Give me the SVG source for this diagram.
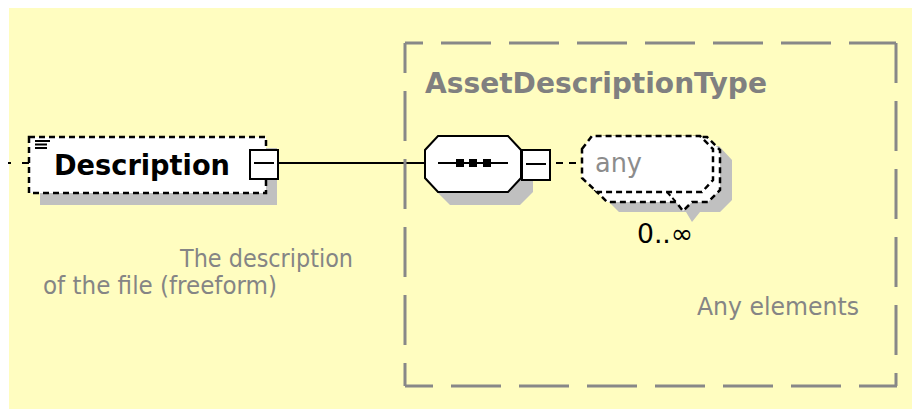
<svg xmlns="http://www.w3.org/2000/svg" width="912" height="409" viewBox="0 0 912 409">
<style>
.shadow{fill:#c0c0c0;stroke:none}
.box{fill:#fff;stroke:#000;stroke-width:2}
.dash{stroke-width:2.5;stroke-dasharray:6 4}
.grp{stroke:#888;stroke-width:3;fill:none;stroke-dasharray:50 18}
.line{stroke:#000;stroke-width:2;fill:none}
.t{font-family:"DejaVu Sans Condensed","DejaVu Sans","Liberation Sans",sans-serif}
.lbl{fill:#858585;font-size:25px}
</style>
<rect x="9" y="8" width="903" height="401" fill="#fffdc0"/>

<g id="connectors">
  <line x1="8" y1="163" x2="11" y2="163" class="line"/>
  <line x1="22" y1="163" x2="29" y2="163" class="line"/>
  <line x1="279" y1="163" x2="426" y2="163" class="line"/>
  <line x1="550" y1="163" x2="580" y2="163" class="line" stroke-dasharray="7 6" stroke-dashoffset="-6"/>
</g>

<g id="AssetDescriptionType">
  <line x1="405" y1="43" x2="896" y2="43" class="grp" stroke-dashoffset="32"/>
  <line x1="896" y1="43" x2="896" y2="386" class="grp" stroke-dashoffset="10"/>
  <line x1="405" y1="386" x2="897" y2="386" class="grp" stroke-dashoffset="22"/>
  <line x1="405" y1="43" x2="405" y2="386" class="grp" stroke-dashoffset="20"/>
  <text x="425" y="93" class="t" font-size="28" font-weight="bold" fill="#808080" textLength="342" lengthAdjust="spacingAndGlyphs">AssetDescriptionType</text>
  <text x="697" y="315" class="t lbl" textLength="162" lengthAdjust="spacingAndGlyphs">Any elements</text>
</g>

<g id="Description">
  <rect x="40" y="148" width="237" height="57" class="shadow"/>
  <rect x="29" y="137" width="237" height="56" class="box dash"/>
  <line x1="35" y1="141" x2="50" y2="141" class="line" stroke-width="1.5"/>
  <line x1="35" y1="144.5" x2="47" y2="144.5" class="line" stroke-width="1.5"/>
  <line x1="35" y1="148" x2="47" y2="148" class="line" stroke-width="1.5"/>
  <text x="54" y="175" class="t" font-size="29" font-weight="bold" fill="#000" textLength="176" lengthAdjust="spacingAndGlyphs">Description</text>
  <rect x="250" y="150" width="28" height="29" class="box"/>
  <line x1="254" y1="163" x2="274" y2="163" class="line"/>
  <text x="180" y="267" class="t lbl" textLength="173" lengthAdjust="spacingAndGlyphs">The description</text>
  <text x="43" y="294" class="t lbl" textLength="234" lengthAdjust="spacingAndGlyphs">of the file (freeform)</text>
</g>

<g id="sequence">
  <polygon points="450,148 520,148 533,162 533,192 520,205 450,205 437,192 437,162" class="shadow"/>
  <polygon points="438,136 508,136 521,150 521,178 508,192 438,192 425,178 425,150" class="box"/>
  <line x1="438" y1="163" x2="508" y2="163" class="line"/>
  <rect x="456" y="159" width="8" height="8" fill="#000"/>
  <rect x="469" y="159" width="8" height="8" fill="#000"/>
  <rect x="483" y="159" width="8" height="8" fill="#000"/>
  <rect x="522" y="150" width="28" height="30" class="box"/>
  <line x1="526" y1="164" x2="546" y2="164" class="line"/>
</g>

<g id="any">
  <path d="M601,160 L611,146 L719,146 L732,160 L732,200 L720,212 L700,212 L692,222 L686,212 L619,212 L607,200 Z" class="shadow"/>
  <path d="M589,150 L599,137 L707,137 L720,150 L720,190 L708,202 L692,202 L683,211 L676,202 L607,202 L595,190 Z" class="box dash"/>
  <path d="M582,149 L592,136 L700,136 L713,149 L713,180 L702,192 L676,192 L668,192 L597,192 L582,178 Z" class="box dash"/>
  <line x1="667" y1="192" x2="676" y2="202" class="line" stroke-dasharray="5 3"/>
  <text x="595" y="172" class="t" font-size="26" fill="#8c8c8c" textLength="47" lengthAdjust="spacingAndGlyphs">any</text>
  <text x="637" y="243" class="t" font-size="27" fill="#000" textLength="56" lengthAdjust="spacingAndGlyphs">0..∞</text>
</g>
</svg>
